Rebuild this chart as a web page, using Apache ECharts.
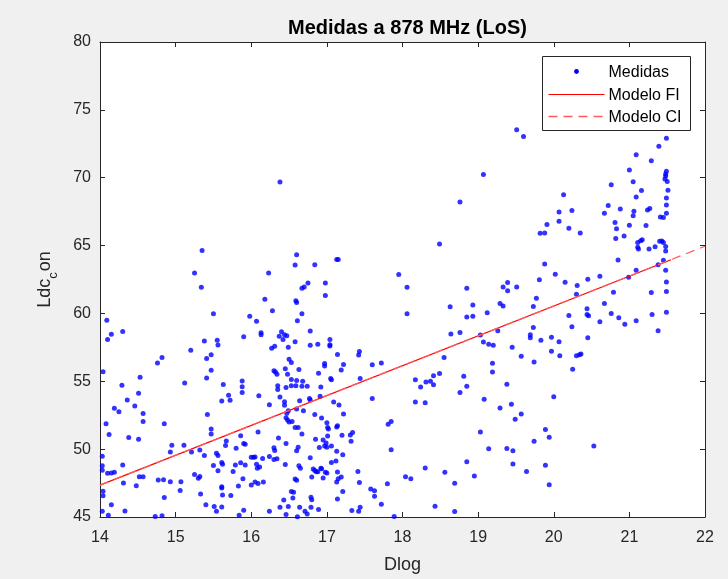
<!DOCTYPE html>
<html>
<head>
<meta charset="utf-8">
<title>Medidas a 878 MHz (LoS)</title>
<script src="https://cdn.jsdelivr.net/npm/echarts@6/dist/echarts.min.js"></script>
<style>
  html, body { margin: 0; padding: 0; background: #f0f0f0; }
  #chart { width: 728px; height: 579px; }
</style>
</head>
<body>
<div id="chart"></div>
<script>
// Measured path loss (dB) against log distance
const dlog = [
  15.25,15.34,15.50,15.98,16.07,14.09,14.15,14.10,14.30,15.90,16.13,16.13,15.20,15.38,15.55,15.56,15.47,14.82,14.76,15.41,
  15.47,15.41,14.04,14.53,15.12,14.29,15.88,15.88,15.88,15.63,15.70,15.72,15.61,14.51,14.36,14.46,14.19,14.25,14.57,14.57,
  14.08,14.12,14.85,15.42,15.47,15.47,14.51,14.38,16.10,16.09,15.86,15.90,15.92,15.80,15.67,15.54,15.56,14.03,14.03,14.03,
  14.10,14.15,14.19,14.30,14.31,14.04,14.04,14.15,14.03,14.11,14.33,14.48,14.52,14.57,14.77,14.84,14.85,14.93,14.93,14.95,
  15.06,15.07,15.11,15.21,15.25,15.30,15.32,15.32,15.33,15.38,15.40,15.50,15.51,15.54,15.56,15.61,15.62,15.61,15.61,15.62,
  15.61,15.66,15.73,15.79,15.76,15.83,15.86,15.89,15.92,15.90,15.84,16.00,16.03,16.05,16.00,16.07,16.08,16.05,16.09,16.11,
  14.73,14.82,15.35,
  16.38,16.60,16.58,16.84,17.13,17.15,16.23,17.95,16.98,16.98,16.75,16.70,16.67,16.18,16.59,16.60,16.28,16.67,16.61,16.78,
  16.40,16.44,16.47,16.42,16.37,16.31,16.27,16.58,16.49,16.78,16.88,17.04,17.04,17.04,17.14,17.43,17.42,16.50,16.53,16.97,
  16.97,17.22,17.19,17.60,17.72,16.63,16.30,16.32,16.34,16.45,16.48,16.89,16.53,16.60,16.68,16.35,16.35,16.46,16.53,16.59,
  16.67,16.74,16.92,17.05,17.06,17.44,16.38,16.44,16.44,16.64,16.77,16.78,16.91,17.09,17.16,16.24,17.60,16.49,16.47,16.46,
  16.48,16.50,16.69,16.60,16.84,16.93,17.00,17.01,17.02,17.13,17.14,17.22,17.31,17.34,16.54,16.58,16.62,16.67,16.85,17.01,
  17.20,17.32,17.81,17.85,16.36,16.46,16.95,16.99,16.97,17.00,17.06,16.90,17.13,17.21,17.85,16.30,16.31,16.34,16.30,16.24,
  16.15,16.62,16.60,16.45,16.78,17.06,17.12,16.63,16.65,16.82,16.84,16.86,16.88,16.92,16.93,16.98,17.00,17.14,17.41,16.16,
  16.58,16.60,16.80,16.95,17.13,17.15,17.19,17.43,17.80,16.53,16.56,16.55,16.43,16.79,16.80,17.14,17.21,17.58,17.63,17.63,
  17.72,16.38,16.49,16.24,16.46,16.61,16.64,16.71,16.74,16.79,16.89,17.33,17.42,17.44,17.89,
  19.51,19.60,19.07,18.76,19.82,18.49,18.06,18.06,19.81,18.85,19.33,19.39,19.39,19.51,19.77,19.73,18.63,19.29,19.33,18.93,
  18.93,18.85,19.12,18.76,18.64,19.03,19.26,19.73,19.69,19.69,19.07,19.14,19.20,19.45,19.57,19.74,18.55,19.19,19.19,18.49,
  18.41,18.41,18.37,18.31,18.24,18.17,18.81,18.85,18.76,19.38,18.17,18.30,19.08,19.29,19.44,19.57,19.49,19.03,19.74,19.14,
  19.38,19.46,18.04,18.11,18.30,18.56,18.69,18.85,18.95,19.46,19.64,18.43,18.69,
  21.49,21.39,21.09,21.29,21.00,21.49,21.48,21.48,21.47,21.50,20.76,21.05,20.13,21.09,21.16,21.51,21.49,20.72,21.49,20.07,
  20.24,20.67,20.88,21.24,21.27,21.49,21.06,21.05,20.07,20.81,20.83,21.00,21.22,21.41,21.45,19.91,19.88,20.20,20.35,20.82,
  20.93,21.17,21.15,21.11,21.11,21.12,21.26,21.34,21.40,21.43,21.45,21.48,21.48,19.88,20.85,21.45,21.38,20.02,21.48,21.09,
  20.99,20.61,
  20.15,20.31,20.45,21.49,20.79,20.30,21.29,21.49,20.67,20.44,20.44,20.46,20.20,20.76,20.86,20.61,20.94,21.09,21.30,21.49,
  21.38,20.24,19.83,19.97,20.07,20.45,19.97,20.08,20.30,20.34,20.36,20.25,20.00,19.89,19.94,20.53,19.89,19.94
];
const ldc = [
  62.97,61.92,59.97,59.79,59.43,59.50,58.47,58.08,58.67,58.28,58.57,58.43,57.28,57.96,58.03,57.67,56.96,56.76,56.35,56.67,
  55.81,55.25,55.71,55.30,54.88,54.71,55.03,54.59,54.17,54.76,53.98,53.61,53.54,54.12,53.63,53.17,53.02,52.75,52.63,52.04,
  51.87,51.07,51.87,52.56,51.48,51.11,50.72,50.85,53.93,51.26,50.99,50.41,50.36,50.06,50.60,49.70,49.53,49.48,48.77,48.45,
  48.23,48.25,48.30,48.84,47.50,46.89,46.57,45.91,45.42,45.12,45.44,47.30,47.96,47.96,47.72,47.74,46.44,47.59,49.79,50.28,
  46.96,47.59,50.28,49.79,48.13,47.86,47.99,49.94,46.69,49.53,45.91,48.79,45.78,45.42,48.40,49.01,48.89,47.13,47.23,46.62,
  45.74,50.26,46.59,48.84,48.35,47.28,48.99,47.81,48.84,45.49,45.12,49.40,49.40,49.43,47.35,48.89,48.60,47.57,47.47,48.69,
  45.03,45.10,64.64,
  69.68,64.33,63.57,63.59,63.98,63.98,62.98,62.86,62.25,61.32,62.25,61.95,61.86,61.05,60.93,60.80,60.19,59.97,59.46,58.70,
  58.65,58.43,58.36,58.07,58.31,57.58,57.43,57.92,57.50,57.65,57.72,58.07,57.70,57.60,56.97,57.19,56.94,56.62,56.38,56.31,
  56.13,56.23,55.84,56.21,56.35,55.87,55.77,55.69,55.52,55.92,55.52,55.60,55.13,55.06,55.01,54.67,54.40,54.55,54.67,54.67,
  54.64,54.64,54.57,55.21,55.11,55.21,53.84,53.49,53.23,53.57,53.74,53.62,53.89,53.47,53.25,53.27,53.74,52.83,52.64,52.32,
  52.15,52.00,52.83,52.96,52.56,52.30,51.95,51.59,51.49,51.64,51.73,52.59,51.05,51.22,52.03,51.59,51.59,51.12,50.73,50.97,
  51.02,50.58,51.83,52.03,50.83,50.41,50.68,50.46,50.24,50.14,50.24,50.12,49.85,49.58,49.95,50.10,49.90,49.29,49.24,49.46,
  49.31,50.14,49.88,48.87,49.36,49.02,49.12,48.77,48.60,48.53,48.43,48.34,48.34,48.60,48.56,48.29,48.24,48.31,48.36,47.58,
  47.80,47.70,47.94,47.87,47.58,47.82,47.94,47.55,47.45,46.87,46.82,46.40,46.26,46.45,46.28,46.33,46.87,47.06,46.94,46.53,
  45.94,45.72,45.77,45.43,45.18,45.01,45.72,45.43,45.23,45.72,45.55,45.47,45.43,45.72,45.04,
  73.54,73.03,70.24,68.21,65.91,65.11,61.93,59.97,62.49,61.86,61.95,62.27,61.68,61.95,61.12,60.51,60.49,60.73,60.54,60.63,
  59.80,59.73,60.05,58.60,58.48,58.41,58.73,58.97,58.43,58.21,57.89,57.72,57.65,57.50,56.84,56.43,56.75,56.33,55.69,55.57,
  55.40,54.74,55.01,54.94,54.57,55.11,55.38,54.64,54.18,54.79,53.47,53.42,53.67,53.03,53.30,52.59,52.20,51.27,50.58,50.02,
  50.05,49.88,47.97,47.82,48.61,48.29,47.48,49.07,48.02,48.90,48.36,45.79,45.40,
  72.91,72.32,71.69,71.25,70.56,70.47,70.27,70.12,69.90,69.73,69.49,69.71,68.75,68.58,69.05,69.07,68.51,67.95,67.99,67.48,
  67.58,67.38,67.70,67.63,67.73,67.38,67.53,67.19,66.80,66.70,66.24,66.50,66.48,67.11,67.07,66.55,65.92,66.28,65.92,65.53,
  65.70,65.43,65.35,65.23,64.87,64.74,64.74,64.92,65.31,65.33,65.23,64.94,64.60,63.64,63.94,63.91,63.59,62.88,63.18,63.18,
  62.66,62.74,
  62.29,62.05,62.51,62.32,61.56,61.41,61.54,61.61,60.73,60.34,59.92,59.82,59.85,60.00,59.68,59.38,59.21,59.46,59.92,60.09,
  58.72,59.02,58.02,58.24,57.92,58.21,57.21,56.89,56.89,56.96,57.01,55.89,53.86,51.44,50.87,50.24,48.82,47.38
];

// Fitted models: floating-intercept (FI) and close-in (CI)
const fiDlog = [14, 21.55];
const fiLoss = [47.35, 63.96];
const ciDlog = [14, 22];
const ciLoss = [47.35, 64.95];

const xTicks = { min: 14, max: 22, step: 1 };
const yTicks = { min: 45, max: 80, step: 5 };

const FONT = '"Liberation Sans", Arial, Helvetica, sans-serif';
const AXIS = '#262626';
const BLUE = '#0000ff';
const RED = '#ff0000';
const CI_RED = '#ff5c5c';

const pairs = (xs, ys) => xs.map((x, i) => [x, ys[i]]);

const chart = echarts.init(document.getElementById('chart'), null, { renderer: 'canvas' });

const axisBase = {
  type: 'value',
  splitLine: { show: false },
  axisLine: { show: true, onZero: false, lineStyle: { color: AXIS, width: 1 } },
  axisTick: { show: true, inside: true, length: 5, lineStyle: { color: AXIS, width: 1 } },
  axisLabel: { color: AXIS, fontSize: 16, fontFamily: FONT }
};

chart.setOption({
  backgroundColor: '#f0f0f0',
  animation: false,
  title: {
    text: 'Medidas a 878 MHz (LoS)',
    left: 283,
    top: 13,
    textStyle: { fontFamily: FONT, fontSize: 20, fontWeight: 'bold', color: '#000' }
  },
  grid: {
    left: 100, top: 42, right: 23, bottom: 60,
    show: true, backgroundColor: '#ffffff', borderWidth: 0
  },
  xAxis: [
    Object.assign({}, axisBase, {
      position: 'bottom', min: xTicks.min, max: xTicks.max, interval: xTicks.step,
      axisLabel: Object.assign({}, axisBase.axisLabel, { margin: 13 }),
      name: 'Dlog', nameLocation: 'middle', nameGap: 39,
      nameTextStyle: { color: AXIS, fontSize: 18, fontFamily: FONT }
    }),
    Object.assign({}, axisBase, {
      position: 'top', min: xTicks.min, max: xTicks.max, interval: xTicks.step,
      axisLabel: { show: false }
    })
  ],
  yAxis: [
    Object.assign({}, axisBase, {
      position: 'left', min: yTicks.min, max: yTicks.max, interval: yTicks.step,
      axisLabel: Object.assign({}, axisBase.axisLabel, { margin: 9, padding: [4, 0, 0, 0] }),
      name: '{m|Ldc}{s|c}{m|on}', nameLocation: 'middle', nameRotate: 90, nameGap: 40,
      nameTextStyle: {
        color: AXIS, fontFamily: FONT,
        rich: {
          m: { fontSize: 18, fontFamily: FONT, color: AXIS, lineHeight: 30, verticalAlign: 'middle' },
          s: { fontSize: 13, fontFamily: FONT, color: AXIS, lineHeight: 13, verticalAlign: 'bottom', padding: [0, 1, 0, 0] }
        }
      }
    }),
    Object.assign({}, axisBase, {
      position: 'right', min: yTicks.min, max: yTicks.max, interval: yTicks.step,
      axisLabel: { show: false }
    })
  ],
  series: [
    {
      name: 'Medidas', type: 'scatter', xAxisIndex: 0, yAxisIndex: 0,
      data: pairs(dlog, ldc), symbol: 'circle', symbolSize: 5,
      itemStyle: { color: BLUE }, silent: true
    },
    {
      name: 'Modelo FI', type: 'line', xAxisIndex: 0, yAxisIndex: 0,
      data: pairs(fiDlog, fiLoss), showSymbol: false, symbol: 'none',
      lineStyle: { color: RED, width: 1.2 }, silent: true
    },
    {
      name: 'Modelo CI', type: 'line', xAxisIndex: 0, yAxisIndex: 0,
      data: pairs(ciDlog, ciLoss), showSymbol: false, symbol: 'none',
      lineStyle: { color: CI_RED, width: 1.3, type: [9, 6] }, silent: true
    }
  ],
  graphic: [
    {
      type: 'group', left: 542, top: 56,
      children: [
        { type: 'rect', shape: { x: 0, y: 0, width: 148, height: 74 },
          style: { fill: '#ffffff', stroke: AXIS, lineWidth: 1 } },
        { type: 'circle', shape: { cx: 34, cy: 15, r: 2.4 }, style: { fill: BLUE } },
        { type: 'text', x: 66, y: 16, style: { text: 'Medidas', font: '16px ' + FONT, fill: '#000', textVerticalAlign: 'middle' } },
        { type: 'line', shape: { x1: 6, y1: 38, x2: 62, y2: 38 }, style: { stroke: RED, lineWidth: 1.2 } },
        { type: 'text', x: 66, y: 39, style: { text: 'Modelo FI', font: '16px ' + FONT, fill: '#000', textVerticalAlign: 'middle' } },
        { type: 'line', shape: { x1: 6, y1: 60, x2: 62, y2: 60 }, style: { stroke: CI_RED, lineWidth: 1.3, lineDash: [9, 6] } },
        { type: 'text', x: 66, y: 61, style: { text: 'Modelo CI', font: '16px ' + FONT, fill: '#000', textVerticalAlign: 'middle' } }
      ]
    }
  ]
});
</script>
</body>
</html>
